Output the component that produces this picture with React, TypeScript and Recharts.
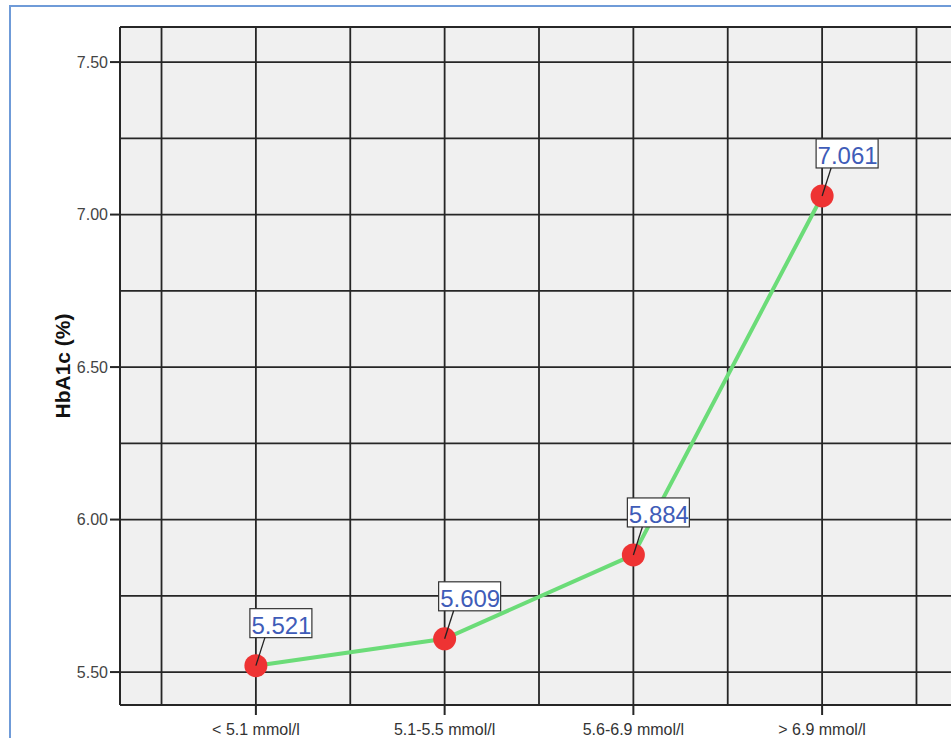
import {
  LineChart,
  Line,
  XAxis,
  YAxis,
  CartesianGrid,
  ReferenceLine,
  Label,
} from "recharts";

// categories + values
const categories: string[] = [
  "< 5.1 mmol/l",
  "5.1-5.5 mmol/l",
  "5.6-6.9 mmol/l",
  "> 6.9 mmol/l",
];
const hba1c: number[] = [5.521, 5.609, 5.884, 7.061];

const yTicks: number[] = [5.5, 6.0, 6.5, 7.0, 7.5];
const yQuarterLines: number[] = [5.75, 6.25, 6.75, 7.25];
const xTicks: number[] = [0, 1, 2, 3];
const xHalfLines: number[] = [-0.5, 0.5, 1.5, 2.5, 3.5];

const X_DOMAIN: [number, number] = [-0.72, 3.72];
const Y_DOMAIN: [number, number] = [5.392, 7.615];

const data = categories.map((name, i) => ({ idx: i, name, value: hba1c[i] }));

const GRID = "#262626";

type BoxProps = { x?: number; y?: number; value?: number };

// white callout box with a little leader line, like SPSS
const ValueBox = ({ x = 0, y = 0, value = 0 }: BoxProps) => {
  const left = x - 6;
  const top = y - 57;
  return (
    <g>
      <rect x={left} y={top} width={62} height={29} fill="#fff" stroke="#333" strokeWidth={1.2} />
      <line x1={x} y1={y} x2={x + 9} y2={top + 29} stroke="#222" strokeWidth={1.3} />
      <text
        x={left + 1.5}
        y={top + 25}
        fontSize={24}
        fontFamily="Arial, 'Liberation Sans', sans-serif"
        fill="#3f5cb8"
      >
        {value.toFixed(3)}
      </text>
    </g>
  );
};

type TickProps = { x?: number; y?: number; payload?: { value: number } };

const XTick = ({ x = 0, y = 0, payload }: TickProps) => (
  <text
    x={x}
    y={y + 18}
    textAnchor="middle"
    fontSize={16}
    fontFamily="Arial, 'Liberation Sans', sans-serif"
    fill="#333"
  >
    {categories[payload ? payload.value : 0]}
  </text>
);

export default function App() {
  return (
    <div
      style={{
        position: "absolute",
        left: 0,
        top: 0,
        width: 951,
        height: 738,
        overflow: "hidden",
        background: "#fff",
      }}
    >
      <div
        style={{
          position: "absolute",
          left: 9,
          top: 5,
          width: 1000,
          height: 800,
          borderLeft: "2px solid #6f9bd8",
          borderTop: "2px solid #6f9bd8",
        }}
      />
      <div style={{ position: "absolute", left: 0, top: 0 }}>
        <LineChart
          width={960}
          height={738}
          data={data}
          margin={{ top: 27, right: 2, bottom: 0, left: 0 }}
        >
          <CartesianGrid
            fill="#f0f0f0"
            stroke={GRID}
            strokeWidth={1.8}
            strokeOpacity={1}
          />
          {yQuarterLines.map((v) => (
            <ReferenceLine key={"h" + v} y={v} stroke={GRID} strokeWidth={1.8} />
          ))}
          {xHalfLines.map((v) => (
            <ReferenceLine key={"v" + v} x={v} stroke={GRID} strokeWidth={1.8} />
          ))}
          <ReferenceLine y={Y_DOMAIN[1]} stroke={GRID} strokeWidth={2} />
          <XAxis
            type="number"
            dataKey="idx"
            domain={X_DOMAIN}
            ticks={xTicks}
            allowDataOverflow
            height={33}
            tickSize={10}
            tick={<XTick />}
            axisLine={{ stroke: GRID, strokeWidth: 2 }}
            tickLine={{ stroke: GRID, strokeWidth: 2 }}
          />
          <YAxis
            type="number"
            domain={Y_DOMAIN}
            ticks={yTicks}
            allowDataOverflow
            width={120}
            tickSize={10}
            tickMargin={2}
            tickFormatter={(v: number) => v.toFixed(2)}
            tick={{
              fontSize: 16,
              fill: "#444",
              fontFamily: "Arial, 'Liberation Sans', sans-serif",
            }}
            axisLine={{ stroke: GRID, strokeWidth: 2 }}
            tickLine={{ stroke: GRID, strokeWidth: 2 }}
          >
            <Label
              value="HbA1c (%)"
              angle={-90}
              position="insideLeft"
              offset={63}
              style={{
                fontSize: 21,
                fontWeight: "bold",
                fill: "#111",
                fontFamily: "Arial, 'Liberation Sans', sans-serif",
                textAnchor: "middle",
              }}
            />
          </YAxis>
          <Line
            type="linear"
            dataKey="value"
            stroke="#6bdc78"
            strokeWidth={4}
            dot={{ r: 11.5, fill: "#ee3333", stroke: "none" }}
            activeDot={false}
            label={<ValueBox />}
            isAnimationActive={false}
          />
        </LineChart>
      </div>
    </div>
  );
}
